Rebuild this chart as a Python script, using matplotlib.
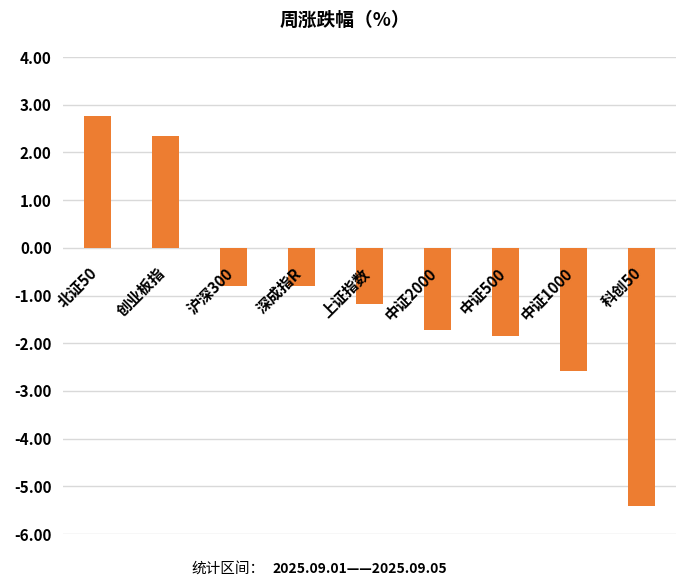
import matplotlib
matplotlib.use("Agg")
import matplotlib.pyplot as plt
from matplotlib.transforms import offset_copy

plt.rcParams['font.family'] = ['Noto Sans CJK SC', 'DejaVu Sans']

categories = ["北证50", "创业板指", "沪深300", "深成指R", "上证指数", "中证2000", "中证500", "中证1000", "科创50"]
values = [2.77, 2.35, -0.81, -0.81, -1.18, -1.73, -1.84, -2.59, -5.42]
yticks = [4, 3, 2, 1, 0, -1, -2, -3, -4, -5, -6]

fig = plt.figure(figsize=(6.9, 5.88), dpi=100)
ax = fig.add_axes([0.092, 0.0918, 0.887, 0.8112])

x = list(range(len(categories)))
ax.set_axisbelow(True)
ax.bar(x, values, width=0.4, color="#ED7D31", zorder=3)
ax.set_xlim(-0.5, len(categories) - 0.5)
ax.set_ylim(-6, 4)
ax.set_yticks(yticks)
ax.set_yticklabels([f"{v:.2f}" for v in yticks], fontsize=11, fontweight='bold')
ax.yaxis.grid(True, color="#d9d9d9", linewidth=1)
for s in ['top', 'right', 'left', 'bottom']:
    ax.spines[s].set_visible(False)
ax.tick_params(axis='y', length=0, pad=8.5)
ax.set_xticks([])

trans = offset_copy(ax.transData, fig=fig, x=-3, y=-23, units='dots')
for xi, lab in zip(x, categories):
    ax.text(xi, 0, lab, transform=trans, rotation=45, ha='right', va='center',
            rotation_mode='anchor', fontsize=11, fontweight='bold', zorder=10, clip_on=False)

fig.text(0.5, 0.966, "周涨跌幅（%）", ha='center', va='center', fontsize=13.5, fontweight='bold')
fig.text(0.278, 0.032, "统计区间：", ha='left', va='center', fontsize=10.5)
fig.text(0.395, 0.032, "2025.09.01——2025.09.05", ha='left', va='center', fontsize=10, fontweight='bold')

fig.savefig("out.png", dpi=100)
